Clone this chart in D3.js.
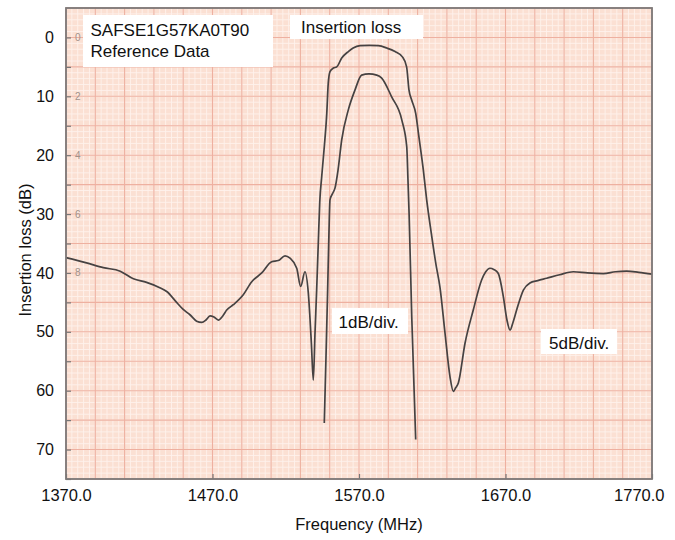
<!DOCTYPE html>
<html>
<head>
<meta charset="utf-8">
<script src="https://cdn.jsdelivr.net/npm/d3@7"></script>
<style>
  html, body { margin: 0; padding: 0; background: #ffffff; }
  svg { display: block; font-family: "Liberation Sans", Arial, Helvetica, sans-serif; }
</style>
</head>
<body>
<svg id="chart" width="675" height="540"></svg>
<script>
// ---- data ----
const xTicks = [1370, 1470, 1570, 1670, 1770];
const yTicks = [0, 10, 20, 30, 40, 50, 60, 70];
const paperTicks = ["0", "2", "4", "6", "8"]; // faint labels printed on the plotter paper at 0..40

// 5 dB/div trace (wide-band response)
const outerFreq = [1370, 1384, 1395.5, 1407, 1416, 1425, 1434, 1439, 1445.5, 1450, 1454.6, 1459.2, 1462.6, 1465.5, 1468.3, 1471, 1474, 1477, 1479.7, 1484.2, 1491, 1496.8, 1503.6, 1510.4, 1514.9, 1519.5, 1522.9, 1527.5, 1530.2, 1533.1, 1535.4, 1537.5, 1538.8, 1540, 1541.1, 1542.2, 1543.2, 1544.6, 1546.3, 1548, 1549, 1550.2, 1552.5, 1554.8, 1558.2, 1562.7, 1566, 1570.7, 1577, 1583.2, 1589, 1594.6, 1599.6, 1602.5, 1604.1, 1605.9, 1608.7, 1610.9, 1613.9, 1616.2, 1619.5, 1622.5, 1625.3, 1628.7, 1632.1, 1634.4, 1636, 1637.8, 1642.4, 1648, 1653.7, 1656.5, 1659.4, 1662, 1665.1, 1668.5, 1671, 1673.1, 1675, 1677.6, 1682.2, 1686.7, 1692, 1698.1, 1707, 1716.3, 1726, 1736.8, 1745, 1752.7, 1761, 1770];
const outerLoss = [37.4, 38.3, 39.1, 39.7, 41.0, 41.6, 42.5, 43.2, 45.0, 46.2, 47.1, 48.2, 48.4, 48.0, 47.3, 47.5, 48.0, 47.3, 46.3, 45.4, 43.7, 41.5, 40.0, 38.1, 37.9, 37.1, 37.5, 39.2, 42.3, 39.8, 43.4, 52, 58.2, 50, 42.9, 35, 28, 23.5, 18.6, 12.9, 7.8, 5.8, 5.2, 5.0, 3.5, 2.4, 1.8, 1.4, 1.35, 1.4, 1.8, 2.4, 3.3, 5.0, 8.9, 10.6, 12.9, 16.9, 22.5, 27.6, 33.5, 38.5, 42.5, 50.2, 57.6, 60.1, 59.5, 58.7, 51.9, 46.3, 41.2, 39.8, 39.2, 39.4, 40.1, 44, 48, 49.7, 48.5, 46.3, 42.9, 41.7, 41.3, 40.9, 40.3, 39.8, 40.0, 40.1, 39.8, 39.7, 39.9, 40.2];

// 1 dB/div trace (passband detail)
const innerFreq = [1546.3, 1547.6, 1548.6, 1549.5, 1550.2, 1552, 1553.6, 1555.7, 1558.2, 1562.7, 1567.3, 1571.8, 1576.8, 1582.1, 1585.5, 1592.3, 1599.2, 1602.6, 1603.4, 1604.2, 1606, 1608.7];
const innerLoss = [65.5, 53, 42.9, 33, 27.6, 26.5, 25.6, 22.5, 17.4, 12.3, 8.9, 6.4, 6.2, 6.4, 6.9, 10.1, 14.0, 18.6, 24, 30, 47.4, 68.3];

const labels = [
  { lines: ["SAFSE1G57KA0T90", "Reference Data"] },
  { lines: ["Insertion loss"] },
  { lines: ["1dB/div."] },
  { lines: ["5dB/div."] }
];

// ---- layout ----
const svg = d3.select("#chart");
const L = 66, R = 652, T = 8, B = 479;
const x = d3.scaleLinear().domain([1370, 1770]).range([L, R]);
const y = d3.scaleLinear().domain([-5, 75]).range([T, B]);

// paper background
svg.append("rect").attr("x", L).attr("y", T).attr("width", R - L).attr("height", B - T).attr("fill", "#fbe0d3");

const grid = svg.append("g");
// minor grid
grid.selectAll(".vmin").data(d3.range(1370, 1770.01, 4)).enter().append("line")
  .attr("x1", d => x(d)).attr("x2", d => x(d)).attr("y1", T).attr("y2", B)
  .attr("stroke", "#fef2ec").attr("stroke-width", 0.9);
grid.selectAll(".hmin").data(d3.range(-5, 75.01, 1)).enter().append("line")
  .attr("y1", d => y(d)).attr("y2", d => y(d)).attr("x1", L).attr("x2", R)
  .attr("stroke", "#fef2ec").attr("stroke-width", 0.9);
// major grid
grid.selectAll(".vmaj").data(d3.range(1370, 1770.01, 20)).enter().append("line")
  .attr("x1", d => x(d)).attr("x2", d => x(d)).attr("y1", T).attr("y2", B)
  .attr("stroke", "#eeb0a0").attr("stroke-width", 1.1);
grid.selectAll(".hmaj").data(d3.range(-5, 75.01, 5)).enter().append("line")
  .attr("y1", d => y(d)).attr("y2", d => y(d)).attr("x1", L).attr("x2", R)
  .attr("stroke", "#eeb0a0").attr("stroke-width", 1.1);

// faint paper labels
svg.selectAll(".paper").data(paperTicks).enter().append("text")
  .attr("x", L + 9).attr("y", (d, i) => y(i * 10) + 3.5)
  .attr("font-size", 10).attr("fill", "#a3928a").text(d => d);

// traces
const line = d3.line().x(d => x(d[0])).y(d => y(d[1])).curve(d3.curveMonotoneX);
svg.append("path").datum(outerFreq.map((f, i) => [f, outerLoss[i]]))
  .attr("d", line).attr("fill", "none").attr("stroke", "#464242").attr("stroke-width", 1.7).attr("stroke-linejoin", "round");
svg.append("path").datum(innerFreq.map((f, i) => [f, innerLoss[i]]))
  .attr("d", line).attr("fill", "none").attr("stroke", "#464242").attr("stroke-width", 1.7).attr("stroke-linejoin", "round");

// axes (ticks inside)
const yAxis = d3.axisLeft(y).tickValues(d3.range(0, 75.01, 5)).tickSize(-5).tickPadding(12)
  .tickFormat(d => yTicks.includes(d) ? d : "");
const gy = svg.append("g").attr("transform", `translate(${L},0)`).call(yAxis);
gy.select(".domain").remove();
gy.selectAll(".tick line").attr("stroke", "#777").attr("stroke-width", 1.2);
gy.selectAll(".tick text").attr("font-size", 16).attr("fill", "#111").attr("font-family", "Liberation Sans, Arial, sans-serif");

const xAxis = d3.axisBottom(x).tickValues(xTicks).tickSize(-5).tickPadding(10).tickFormat(d3.format(".1f"));
const gx = svg.append("g").attr("transform", `translate(0,${B})`).call(xAxis);
gx.select(".domain").remove();
gx.selectAll(".tick line").attr("stroke", "#777").attr("stroke-width", 1.2);
gx.selectAll(".tick text").attr("font-size", 16.5).attr("fill", "#111").attr("font-family", "Liberation Sans, Arial, sans-serif");
// last label kept inside the picture, as in the reference
gx.selectAll(".tick text").filter(d => d === 1770).attr("text-anchor", "end").attr("dx", 12);

// border
svg.append("rect").attr("x", L).attr("y", T).attr("width", R - L).attr("height", B - T)
  .attr("fill", "none").attr("stroke", "#7c7878").attr("stroke-width", 1.8);

// white label boxes
const boxes = [
  { x0: 83, y0: 15, w: 190, h: 52, tx: 90.5, ty: [36, 57] },
  { x0: 290, y0: 15, w: 133, h: 24, tx: 301, ty: [32.5] },
  { x0: 332, y0: 308, w: 76, h: 26, tx: 338.5, ty: [327.5] },
  { x0: 541, y0: 329, w: 76, h: 25, tx: 549, ty: [349] }
];
labels.forEach((lab, i) => {
  const b = boxes[i];
  svg.append("rect").attr("x", b.x0).attr("y", b.y0).attr("width", b.w).attr("height", b.h).attr("fill", "#ffffff");
  lab.lines.forEach((t, j) => {
    svg.append("text").attr("x", b.tx).attr("y", b.ty[j]).attr("font-size", 17).attr("fill", "#111").text(t);
  });
});

// axis titles
svg.append("text").attr("x", (L + R) / 2).attr("y", 530).attr("text-anchor", "middle")
  .attr("font-size", 16.5).attr("fill", "#111").text("Frequency (MHz)");
svg.append("text").attr("transform", `translate(31,250) rotate(-90)`).attr("text-anchor", "middle")
  .attr("font-size", 16.5).attr("fill", "#111").text("Insertion loss (dB)");
</script>
</body>
</html>
